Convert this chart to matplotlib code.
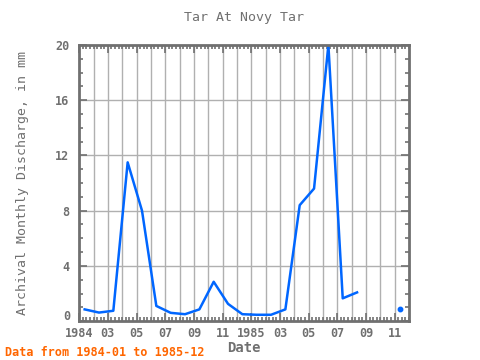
import numpy as np
import matplotlib
matplotlib.use("Agg")
import matplotlib.pyplot as plt
from matplotlib.ticker import MultipleLocator, FixedLocator

# monthly discharge, Jan 1984 .. Dec 1985 (nan = missing)
months = np.arange(24)
discharge = [0.85, 0.62, 0.75, 11.5, 8.0, 1.1, 0.6, 0.5, 0.85, 2.85, 1.25, 0.5,
             0.46, 0.46, 0.85, 8.4, 9.6, 20.0, 1.65, 2.08, np.nan, np.nan, 0.9, np.nan]
tick_pos = [0, 2, 4, 6, 8, 10, 12, 14, 16, 18, 20, 22]
tick_labels = ["1984", "03", "05", "07", "09", "11", "1985", "03", "05", "07", "09", "11"]
ytick_pos = [0, 4, 8, 12, 16, 20]

grey = "#707070"
blue = "#0066ff"
mono = "DejaVu Sans Mono"

x = months + 0.38
y = np.array(discharge, dtype=float)

fig = plt.figure(figsize=(4.8, 3.6), dpi=100)
ax = fig.add_axes([0.165, 0.108, 0.687, 0.767])

ax.plot(x, y, color=blue, lw=1.8)
# isolated points
iso = [i for i in range(len(y)) if not np.isnan(y[i])
       and (i == 0 or np.isnan(y[i - 1])) and (i == len(y) - 1 or np.isnan(y[i + 1]))]
ax.plot(x[iso], y[iso], "o", color=blue, ms=3.2)

ax.set_xlim(0, 23)
ax.set_ylim(0, 20)

ax.xaxis.set_major_locator(FixedLocator(tick_pos))
ax.set_xticklabels(tick_labels)
ax.xaxis.set_minor_locator(MultipleLocator(0.25))
ax.yaxis.set_major_locator(FixedLocator(ytick_pos))
# zero label is drawn separately, a bit higher, clear of the date labels
ax.set_yticklabels([""] + [str(v) for v in ytick_pos[1:]])
ax.yaxis.set_minor_locator(MultipleLocator(1))

for m in months[1:23]:
    ax.axvline(m, color="#b0b0b0", lw=1, zorder=0)
for v in ytick_pos[1:-1]:
    ax.axhline(v, color="#b0b0b0", lw=1, zorder=0)

ax.tick_params(which="both", direction="in", top=True, right=True, color=grey,
               labelcolor=grey, width=1.2)
ax.tick_params(which="major", length=6, labelsize=8.5)
ax.tick_params(axis="y", which="major", pad=7)
ax.tick_params(axis="x", which="major", pad=4)
ax.tick_params(which="minor", length=3)
for lab in ax.get_xticklabels() + ax.get_yticklabels():
    lab.set_family(mono)
    lab.set_fontweight("bold")
ax.annotate(str(ytick_pos[0]), xy=(0, 0), xycoords="axes fraction", xytext=(-9, 5),
            textcoords="offset pixels", ha="right", va="center", family=mono,
            fontweight="bold", fontsize=8.5, color=grey)

for s in ax.spines.values():
    s.set_color(grey)
    s.set_linewidth(2)

ax.set_title("Tar At Novy Tar", family=mono, fontsize=9.5, color=grey, pad=17)
ax.set_ylabel("Archival Monthly Discharge, in mm", family=mono, fontsize=9.5,
              color=grey, labelpad=19)
ax.set_xlabel("Date", family=mono, fontsize=10, color=grey, fontweight="bold", labelpad=1)

fig.text(0.01, 0.01, "Data from 1984-01 to 1985-12", family=mono, fontsize=8.5,
         color="#ff6600", fontweight="bold")

fig.savefig("out.png", dpi=100)
